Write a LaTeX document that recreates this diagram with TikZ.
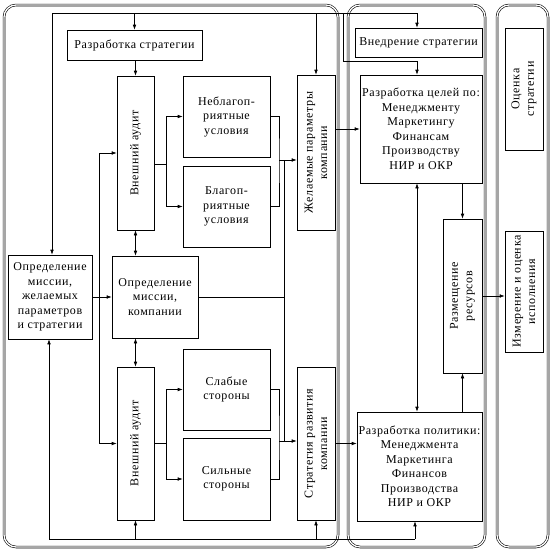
\documentclass[tikz,border=0pt]{standalone}
\usepackage{fontspec}
\setmainfont{Liberation Serif}
\newfontfamily\tnr[LetterSpace=5]{Liberation Serif}
\usetikzlibrary{arrows.meta}
\tikzset{
  box/.style={draw, line width=0.6pt, inner sep=0pt, align=center, font=\tnr\fontsize{12}{14.5}\selectfont},
  rbox/.style={box, rotate=90},
  panel/.style={draw, double, line width=0.6pt, double distance=1.3pt, rounded corners=12pt},
  conn/.style={line width=0.6pt},
  arr/.style={conn, -{Latex[length=5pt,width=3.6pt]}},
  arrtwo/.style={conn, {Latex[length=5pt,width=3.6pt]}-{Latex[length=5pt,width=3.6pt]}}
}
\begin{document}
\begin{tikzpicture}[x=1pt,y=-1pt]
\useasboundingbox (0,0) rectangle (553,552);
% panels
\draw[panel] (4,5) rectangle (338,547);
\draw[panel] (348,5) rectangle (485,547);
\draw[panel] (497,5) rectangle (548,547);

% nodes (rotated: minimum width = vertical extent)
\node[box, minimum width=135pt, minimum height=30pt] (strat) at (134.5,45) {Разработка стратегии};
\node[box, minimum width=84pt, minimum height=84pt] (mis1) at (50,297) {Определение\\миссии,\\желаемых\\параметров\\и стратегии};
\node[rbox, minimum width=154pt, minimum height=37pt] (aud1) at (135.5,153) {Внешний аудит};
\node[box, minimum width=87pt, minimum height=81pt] (neb) at (226.5,116.5) {Неблагоп-\\риятные\\условия};
\node[box, minimum width=87pt, minimum height=81pt] (blag) at (226.5,206.5) {Благоп-\\риятные\\условия};
\node[box, minimum width=86pt, minimum height=82pt] (mis2) at (155,297) {Определение\\миссии,\\компании};
\node[rbox, minimum width=153pt, minimum height=37pt] (aud2) at (135.5,443.5) {Внешний аудит};
\node[box, minimum width=87pt, minimum height=81pt] (slab) at (226.5,389.5) {Слабые\\стороны};
\node[box, minimum width=87pt, minimum height=82pt] (sil) at (226.5,479) {Сильные\\стороны};
\node[rbox, minimum width=155pt, minimum height=38pt] (zhel) at (316,152.5) {Желаемые параметры\\компании};
\node[rbox, minimum width=153pt, minimum height=38pt] (strdev) at (316,443.5) {Стратегия развития\\компании};
\node[box, minimum width=127pt, minimum height=29pt] (vned) at (418.5,42.5) {Внедрение стратегии};
\node[box, minimum width=122pt, minimum height=108pt] (cel) at (421,129) {Разработка целей по:\\Менеджменту\\Маркетингу\\Финансам\\Производству\\НИР и ОКР};
\node[box, minimum width=125pt, minimum height=109pt] (pol) at (419.5,466.5) {Разработка политики:\\Менеджмента\\Маркетинга\\Финансов\\Производства\\НИР и ОКР};
\node[rbox, minimum width=154pt, minimum height=39pt] (razm) at (462.5,296) {Размещение\\ресурсов};
\node[rbox, minimum width=122pt, minimum height=38pt] (ocen) at (524,89) {Оценка\\стратегии};
\node[rbox, minimum width=121pt, minimum height=38pt] (izm) at (524,291.5) {Измерение и оценка\\исполнения};

% coordinates
\coordinate (t1) at (52,13);
\coordinate (t2) at (417,13);
\coordinate (tb) at (343,13);
\coordinate (tb2) at (343,61);
\coordinate (bl1) at (49,539);
\coordinate (bl2) at (415,539);
\coordinate (lv1) at (99,153);
\coordinate (lv2) at (99,443.5);
\coordinate (j1) at (166,164);
\coordinate (j2) at (166,443);
\coordinate (b1) at (279,160);
\coordinate (b2) at (279,441);
\coordinate (tr1) at (284,160);
\coordinate (tr2) at (284,441);
\coordinate (trm) at (284,297);

% top feedback line
\draw[conn] (t1) -- (t2);
\draw[arr] (t1) -- (t1 |- mis1.north);
\draw[arr] (strat.north |- t1) -- (strat.north);
\draw[arr] (zhel.east |- t1) -- (zhel.east);
\draw[arr] (t2) -- (t2 |- vned.north);
\draw[arr] (tb) -- (tb2) -| (cel.north -| t2);

% bottom feedback line
\draw[conn] (bl1) -- (bl2);
\draw[arr] (bl1) -- (bl1 |- mis1.south);
\draw[arr] (aud2.west |- bl1) -- (aud2.west);
\draw[arr] (strdev.west |- bl1) -- (strdev.west);
\draw[arr] (bl2) -- (bl2 |- pol.south);

% left column
\draw[arr] (aud1.east |- strat.south) -- (aud1.east);
\draw[arr] (mis1.east) -- (mis2.west);
\draw[conn] (lv1) -- (lv2);
\draw[arr] (lv1) -- (aud1.north);
\draw[arr] (lv2) -- (aud2.north);
\draw[arrtwo] (aud1.west) -- (aud1.west |- mis2.north);
\draw[arrtwo] (aud2.east |- mis2.south) -- (aud2.east);

% audits to condition boxes
\draw[conn] (j1 -| aud1.south) -- (j1);
\draw[arr] (j1) |- (neb.west);
\draw[arr] (j1) |- (blag.west);
\draw[conn] (j2 -| aud2.south) -- (j2);
\draw[arr] (j2) |- (slab.west);
\draw[arr] (j2) |- (sil.west);

% brackets and trunk
\draw[conn] (neb.east) -| (b1) |- (blag.east);
\draw[conn] (slab.east) -| (b2) |- (sil.east);
\draw[arr] (b1) -- (b1 -| zhel.north);
\draw[arr] (b2) -- (b2 -| strdev.north);
\draw[conn] (mis2.east) -- (trm);
\draw[conn] (tr1) -- (tr2);

% to middle panel
\draw[arr] (cel.west -| zhel.south) -- (cel.west);
\draw[arr] (strdev.south) -- (strdev.south -| pol.west);
\draw[arrtwo] (cel.south -| t2) -- (pol.north -| t2);
\draw[arr] (cel.south -| razm.east) -- (razm.east);
\draw[arr] (pol.north -| razm.west) -- (razm.west);
\draw[arr] (razm.south) -- (razm.south -| izm.north);
\end{tikzpicture}
\end{document}
